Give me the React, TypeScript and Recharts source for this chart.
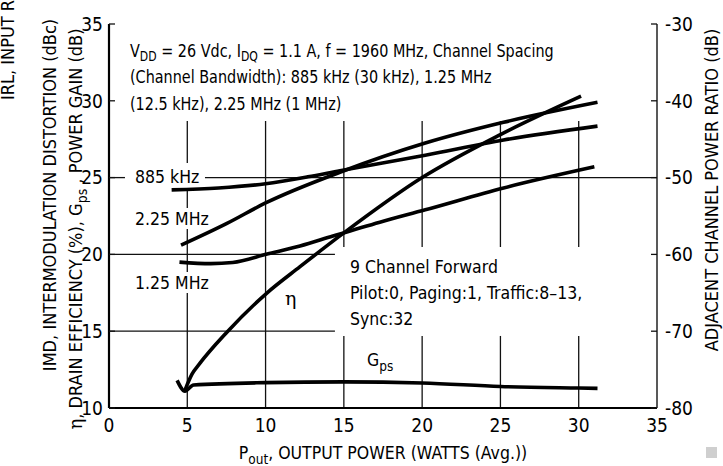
import React from 'react';
import { LineChart, Line, XAxis, YAxis, ReferenceLine } from 'recharts';

// ---- data ----
const xTicks = [0, 5, 10, 15, 20, 25, 30, 35];
const leftTicks = [10, 15, 20, 25, 30, 35];
const rightTicks = [-80, -70, -60, -50, -40, -30];

// drain efficiency (left axis, %)
const etaPout = [4.85, 5.3, 5.8, 7.5, 10.1, 12.2, 15, 20, 25, 30.15];
const etaVal = [11.15, 12.2, 12.9, 14.9, 17.5, 19.2, 21.4, 25.0, 27.8, 30.3];

// power gain (left axis, dB)
const gpsPout = [4.35, 4.85, 5.4, 10, 15, 20, 25, 30, 31.2];
const gpsVal = [11.8, 11.1, 11.5, 11.65, 11.7, 11.63, 11.4, 11.3, 11.28];

// ACPR (right axis, dB)
const acp885Pout = [4.0, 7, 10, 12.7, 14.75, 20.2, 25.2, 31.2];
const acp885Val = [-51.6, -51.35, -50.8, -49.9, -49.1, -47.1, -45.1, -43.3];

const acp225Pout = [4.6, 7.5, 10, 14.75, 20.2, 25.2, 31.2];
const acp225Val = [-58.8, -56.0, -53.3, -49.3, -45.5, -42.8, -40.2];

const acp125Pout = [4.5, 6.5, 7.9, 10.1, 12.2, 14.3, 17.3, 20.2, 25.2, 31.0];
const acp125Val = [-61.0, -61.2, -61.05, -59.95, -58.9, -57.6, -55.8, -54.2, -51.35, -48.6];

const zip = (xs: number[], ys: number[]) => xs.map((x, i) => ({ x, y: ys[i] }));

const etaData = zip(etaPout, etaVal);
const gpsData = zip(gpsPout, gpsVal);
const acp885 = zip(acp885Pout, acp885Val);
const acp225 = zip(acp225Pout, acp225Val);
const acp125 = zip(acp125Pout, acp125Val);

const FONT = "'Liberation Sans Narrow', 'Arial Narrow', 'DejaVu Sans Condensed', 'Liberation Sans', sans-serif";
const GRID = { stroke: '#111', strokeWidth: 1.3 };

// grid segments (x, yFrom, yTo) in data units
const vGrid: [number, number, number][] = [
  [5, 10, 17.49], [5, 18.85, 21.65], [5, 23.02, 24.32], [5, 25.95, 28.68],
  [10, 10, 28.68],
  [15, 10, 14.69], [15, 20.48, 28.68],
  [20, 10, 14.69], [20, 20.48, 28.68],
  [25, 10, 14.69], [25, 20.48, 28.68],
  [30, 10, 14.69], [30, 20.48, 28.68],
];
const hGrid: [number, number, number][] = [
  [25, 0, 1.02], [25, 6.13, 35],
  [20, 0, 14.43],
  [15, 0, 14.43],
];

export default function App() {
  const W = 723, H = 466;
  return (
    <div style={{ position: 'fixed', left: 0, top: 0, width: W, height: H, background: '#fff', overflow: 'hidden' }}>
      <LineChart width={W} height={H} margin={{ top: 24, right: 26, bottom: 28, left: 69 }}>
        <XAxis xAxisId="b" type="number" dataKey="x" domain={[0, 35]} ticks={xTicks} allowDataOverflow
          axisLine={{ stroke: '#000', strokeWidth: 2.2 }} tickLine={false} tickSize={0} tickMargin={11} height={30}
          tick={{ fill: '#000', fontSize: 19, fontFamily: FONT }} />
        <XAxis xAxisId="t" orientation="top" type="number" dataKey="x" domain={[0, 35]} ticks={xTicks} allowDataOverflow
          axisLine={{ stroke: '#222', strokeWidth: 1.2 }} tickLine={{ stroke: '#222', strokeWidth: 1.2 }} tickSize={-7}
          tickFormatter={() => ''} height={0} />
        <YAxis yAxisId="l" type="number" domain={[10, 35]} ticks={leftTicks} allowDataOverflow width={40}
          axisLine={{ stroke: '#000', strokeWidth: 2.2 }} tickLine={{ stroke: '#111', strokeWidth: 1.3 }} tickSize={-6} tickMargin={12}
          tick={{ fill: '#000', fontSize: 19, fontFamily: FONT }} />
        <YAxis yAxisId="r" orientation="right" type="number" domain={[-80, -30]} ticks={rightTicks} allowDataOverflow width={40}
          axisLine={{ stroke: '#222', strokeWidth: 1.5 }} tickLine={{ stroke: '#111', strokeWidth: 1.3 }} tickSize={-6} tickMargin={14}
          tick={{ fill: '#000', fontSize: 19, fontFamily: FONT, textAnchor: 'start' }}
          tickFormatter={(v: number) => String(v)} />

        {vGrid.map(([x, y1, y2], i) => (
          <ReferenceLine key={'v' + i} xAxisId="b" yAxisId="l" segment={[{ x, y: y1 }, { x, y: y2 }]} {...GRID} />
        ))}
        {hGrid.map(([y, x1, x2], i) => (
          <ReferenceLine key={'h' + i} xAxisId="b" yAxisId="l" segment={[{ x: x1, y }, { x: x2, y }]} {...GRID} />
        ))}

        <Line xAxisId="b" yAxisId="l" data={etaData} dataKey="y" type="monotone" stroke="#000" strokeWidth={3.6} dot={false} isAnimationActive={false} />
        <Line xAxisId="b" yAxisId="l" data={gpsData} dataKey="y" type="monotone" stroke="#000" strokeWidth={3.6} dot={false} isAnimationActive={false} />
        <Line xAxisId="b" yAxisId="r" data={acp885} dataKey="y" type="monotone" stroke="#000" strokeWidth={3.6} dot={false} isAnimationActive={false} />
        <Line xAxisId="b" yAxisId="r" data={acp225} dataKey="y" type="monotone" stroke="#000" strokeWidth={3.6} dot={false} isAnimationActive={false} />
        <Line xAxisId="b" yAxisId="r" data={acp125} dataKey="y" type="monotone" stroke="#000" strokeWidth={3.6} dot={false} isAnimationActive={false} />
      </LineChart>

      <svg width={W} height={H} style={{ position: 'absolute', left: 0, top: 0, pointerEvents: 'none' }}
        fontFamily={FONT} fill="#000">
        <g fontSize={18.5} transform="translate(130,0) scale(0.865,1)">
          <text x={0} y={57}>V<tspan dy={4.5} fontSize={14}>DD</tspan><tspan dy={-4.5}> = 26 Vdc, I</tspan><tspan dy={4.5} fontSize={14}>DQ</tspan><tspan dy={-4.5}> = 1.1 A, f = 1960 MHz, Channel Spacing</tspan></text>
          <text x={0} y={83}>(Channel Bandwidth): 885 kHz (30 kHz), 1.25 MHz</text>
          <text x={0} y={110}>(12.5 kHz), 2.25 MHz (1 MHz)</text>
        </g>
        <g fontSize={17.5}>
          <text x={135} y={183}>885 kHz</text>
          <text x={135} y={225}>2.25 MHz</text>
          <text x={135} y={289}>1.25 MHz</text>
          <text x={285} y={305} fontFamily="'DejaVu Serif', serif" fontSize={19}>η</text>

          <text x={350} y={273}>9 Channel Forward</text>
          <text x={350} y={299}>Pilot:0, Paging:1, Traffic:8–13,</text>
          <text x={350} y={325}>Sync:32</text>

          <text x={367} y={366}>G<tspan dy={5} fontSize={13.5}>ps</tspan></text>

          <text x={383} y={459} textAnchor="middle">P<tspan dy={5} fontSize={13.5}>out</tspan><tspan dy={-5}>, OUTPUT POWER (WATTS (Avg.))</tspan></text>
        </g>
        <g fontSize={18}>
          <text transform="rotate(-90)" x={-229} y={82} textAnchor="middle"><tspan fontFamily="'DejaVu Serif', serif">η</tspan>, DRAIN EFFICIENCY (%), G<tspan dy={5} fontSize={14}>ps</tspan><tspan dy={-5}> , POWER GAIN (dB)</tspan></text>
          <text transform="rotate(-90)" x={-195} y={56} textAnchor="middle">IMD, INTERMODULATION DISTORTION (dBc)</text>
          <text transform="rotate(-90)" x={-100} y={14} textAnchor="start">IRL, INPUT RETURN LOSS (dB)</text>

          <text transform="rotate(-90)" x={-190} y={718} textAnchor="middle">ADJACENT CHANNEL POWER RATIO (dB)</text>
        </g>
        <rect x={706} y={447} width={11} height={11} fill="#cfcfcf" />
      </svg>
    </div>
  );
}
